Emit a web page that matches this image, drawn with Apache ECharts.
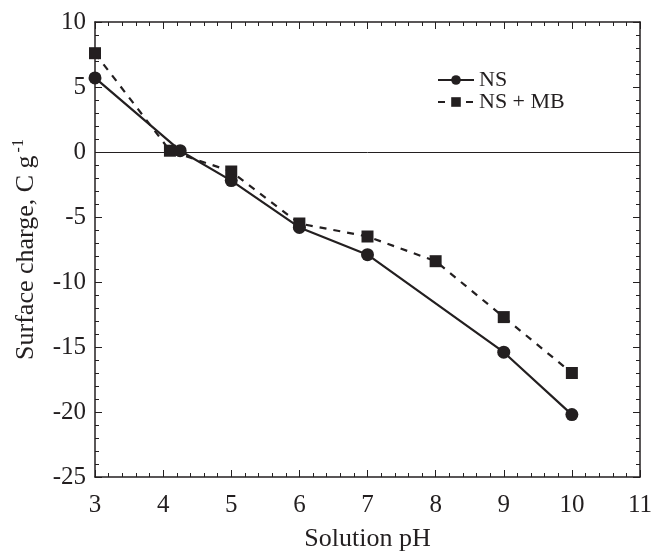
<!DOCTYPE html>
<html>
<head>
<meta charset="utf-8">
<script src="https://cdn.jsdelivr.net/npm/echarts@6/dist/echarts.min.js"></script>
<style>
  html, body { margin: 0; padding: 0; background: #fff; }
  #chart { width: 654px; height: 552px; }
</style>
</head>
<body>
<div id="chart"></div>
<script>
// Surface charge versus solution pH
const nsPH = [3, 4.25, 5, 6, 7, 9, 10];
const nsCharge = [5.7, 0.1, -2.2, -5.8, -7.9, -15.4, -20.2];
const nsmbPH = [3, 4.1, 5, 6, 7, 8, 9, 10];
const nsmbCharge = [7.6, 0.1, -1.5, -5.5, -6.5, -8.4, -12.7, -17.0];

const FONT = '"Liberation Serif", "Times New Roman", serif';
const INK = '#231f20';

const pairs = (xs, ys) => xs.map((x, i) => [x, ys[i]]);

const axisCommon = {
  axisLine: { show: true, onZero: false, lineStyle: { color: INK, width: 1.5 } },
  axisTick: { show: true, inside: true, length: 7, lineStyle: { color: INK, width: 1 } },
  minorTick: { show: true, splitNumber: 5, length: 4, lineStyle: { color: INK, width: 1 } },
  splitLine: { show: false }
};

const chart = echarts.init(document.getElementById('chart'));
chart.setOption({
  animation: false,
  backgroundColor: '#fff',
  grid: { left: 95, right: 14, top: 22, bottom: 75, outerBoundsMode: 'none', containLabel: false },
  legend: {
    orient: 'vertical',
    left: 432,
    top: 64,
    itemWidth: 36,
    itemHeight: 12,
    itemGap: 0,
    textStyle: { fontFamily: FONT, fontSize: 22, color: INK, lineHeight: 22 },
    data: ['NS', 'NS + MB']
  },
  xAxis: [
    Object.assign({
      type: 'value', min: 3, max: 11, interval: 1, position: 'bottom',
      name: 'Solution pH', nameLocation: 'middle', nameGap: 49,
      nameTextStyle: { fontFamily: FONT, fontSize: 26, color: INK },
      axisLabel: { fontFamily: FONT, fontSize: 25, color: INK, margin: 16 }
    }, axisCommon),
    Object.assign({
      type: 'value', min: 3, max: 11, interval: 1, position: 'top',
      axisLabel: { show: false }
    }, axisCommon)
  ],
  yAxis: [
    Object.assign({
      type: 'value', min: -25, max: 10, interval: 5, position: 'left',
      name: 'Surface charge, C g{sup|-1}', nameLocation: 'middle', nameGap: 54,
      nameTextStyle: {
        fontFamily: FONT, fontSize: 26, color: INK,
        rich: { sup: { fontFamily: FONT, fontSize: 16, color: INK, verticalAlign: 'bottom', padding: [0, 0, 14, 3] } }
      },
      axisLabel: { fontFamily: FONT, fontSize: 25, color: INK, margin: 9 }
    }, axisCommon),
    Object.assign({
      type: 'value', min: -25, max: 10, interval: 5, position: 'right',
      axisLabel: { show: false }
    }, axisCommon)
  ],
  series: [
    {
      name: 'NS', type: 'line', data: pairs(nsPH, nsCharge),
      symbol: 'circle', symbolSize: 13,
      lineStyle: { color: INK, width: 2.2 },
      itemStyle: { color: INK },
      markLine: {
        silent: true, symbol: 'none', label: { show: false },
        lineStyle: { color: INK, width: 1, type: 'solid' },
        data: [{ yAxis: 0 }]
      },
      z: 3
    },
    {
      name: 'NS + MB', type: 'line', data: pairs(nsmbPH, nsmbCharge),
      symbol: 'rect', symbolSize: 12,
      lineStyle: { color: INK, width: 2.2, type: [7, 7] },
      itemStyle: { color: INK },
      z: 2
    }
  ]
});
</script>
</body>
</html>
